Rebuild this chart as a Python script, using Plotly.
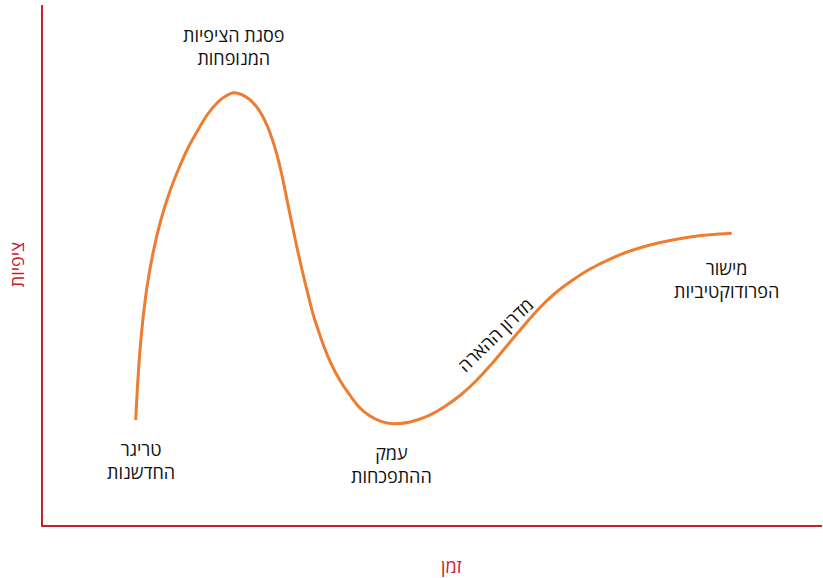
import plotly.graph_objects as go

# Hype-cycle curve (time vs. expectations)
time_vals = [11.90, 12.14, 12.45, 12.86, 13.41, 14.15, 15.06, 16.17, 17.43, 18.55, 19.83,
             21.16, 22.46, 23.47, 24.43, 25.48, 26.44, 27.34, 28.11, 28.82, 29.46, 30.04,
             30.55, 31.04, 31.51, 31.99, 32.48, 32.99, 33.53, 34.10, 34.70, 35.37, 36.11,
             36.97, 38.13, 39.47, 40.69, 41.98, 43.39, 44.97, 47.11, 49.29, 51.48, 53.53,
             55.58, 57.64, 59.69, 61.75, 63.80, 65.85, 67.91, 70.22, 72.79, 75.35, 77.92,
             80.49, 83.06, 85.62, 88.41]
expect_vals = [20.19, 26.92, 33.65, 40.00, 46.35, 52.50, 58.27, 63.65, 68.56, 72.31, 75.77,
               79.04, 81.35, 82.50, 83.13, 82.79, 81.92, 80.58, 78.85, 76.63, 74.04, 71.15,
               68.08, 64.62, 61.15, 57.69, 54.23, 50.77, 47.31, 43.85, 40.38, 37.31, 34.13,
               31.06, 27.79, 24.81, 22.50, 20.96, 19.94, 19.46, 19.81, 20.87, 22.69, 24.90,
               27.69, 31.06, 34.71, 38.37, 41.83, 44.71, 47.02, 49.23, 51.15, 52.69, 53.85,
               54.71, 55.38, 55.81, 56.10]

# Phase labels and their anchor positions (data units)
phase_labels = ["טריגר<br>החדשנות", "פסגת הציפיות<br>המנופחות", "עמק<br>ההתפכחות",
                "מישור<br>הפרודוקטיביות"]
phase_x = [12.6, 24.5, 44.7, 87.7]
phase_y = [12.4, 92.0, 11.6, 47.2]

slope_label = "מדרון ההארה"
slope_x, slope_y = 58.0, 36.6

x_title = "זמן"
y_title = "ציפיות"

FONT = "Open Sans, Liberation Sans, DejaVu Sans, sans-serif"
RED = "#C8202F"
ORANGE = "#ED7D31"

fig = go.Figure()
fig.add_trace(go.Scatter(x=time_vals, y=expect_vals, mode="lines",
                         line=dict(color=ORANGE, width=3, shape="spline", smoothing=1.0),
                         hoverinfo="skip", showlegend=False))

annotations = []
for t, xx, yy in zip(phase_labels, phase_x, phase_y):
    annotations.append(dict(x=xx, y=yy, xref="x", yref="y", text=t, showarrow=False,
                            font=dict(family=FONT, size=18, color="#111111"),
                            xanchor="center", yanchor="middle", align="center"))
annotations.append(dict(x=slope_x, y=slope_y, xref="x", yref="y", text=slope_label,
                        showarrow=False, textangle=-44,
                        font=dict(family=FONT, size=18, color="#111111")))
annotations.append(dict(x=52.5, y=-0.079, xref="x", yref="paper", text=x_title,
                        showarrow=False, font=dict(family=FONT, size=18, color=RED),
                        xanchor="center", yanchor="middle"))
annotations.append(dict(x=-0.033, y=50, xref="paper", yref="y", text=y_title,
                        showarrow=False, textangle=-90,
                        font=dict(family=FONT, size=18, color=RED),
                        xanchor="center", yanchor="middle"))

fig.update_layout(
    width=823, height=578,
    margin=dict(l=43, r=1, t=5, b=53, autoexpand=False),
    paper_bgcolor="white", plot_bgcolor="white",
    xaxis=dict(range=[0, 100], showgrid=False, zeroline=False, showticklabels=False,
               ticks="", showline=True, linecolor=RED, linewidth=1.5, fixedrange=True),
    yaxis=dict(range=[0, 100], showgrid=False, zeroline=False, showticklabels=False,
               ticks="", showline=True, linecolor=RED, linewidth=1.5, fixedrange=True),
    annotations=annotations,
    showlegend=False,
)

fig.write_html("out.html", config={"displayModeBar": False},
               post_script="document.body.style.margin='0';document.body.style.overflow='hidden';")
